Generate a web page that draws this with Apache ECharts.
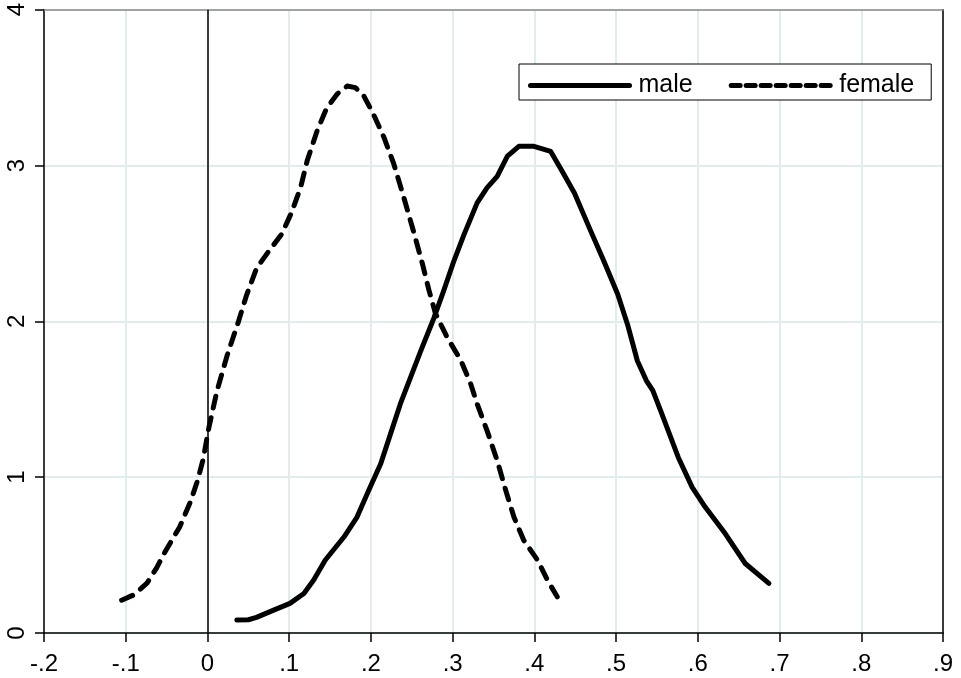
<!DOCTYPE html>
<html>
<head>
<meta charset="utf-8">
<script src="https://cdn.jsdelivr.net/npm/echarts@6/dist/echarts.min.js"></script>
<style>
html,body{margin:0;padding:0;background:#fff;}
#chart{width:961px;height:678px;}
</style>
</head>
<body>
<div id="chart"></div>
<script>
// ---- data ----
const xTicks = [-0.2, -0.1, 0, 0.1, 0.2, 0.3, 0.4, 0.5, 0.6, 0.7, 0.8, 0.9];
const yTicks = [0, 1, 2, 3, 4];
const seriesNames = ['male', 'female'];

const maleX = [0.036, 0.05, 0.06, 0.081, 0.101, 0.118, 0.130, 0.144, 0.167, 0.183, 0.199, 0.212, 0.224, 0.236, 0.2485, 0.261, 0.277, 0.289, 0.3015, 0.314, 0.330, 0.342, 0.3545, 0.367, 0.381, 0.3995, 0.42, 0.434, 0.449, 0.469, 0.485, 0.502, 0.514, 0.526, 0.537, 0.545, 0.556, 0.576, 0.593, 0.609, 0.6335, 0.658, 0.687];
const maleY = [0.083, 0.085, 0.10, 0.147, 0.19, 0.254, 0.34, 0.467, 0.616, 0.744, 0.936, 1.086, 1.278, 1.47, 1.64, 1.81, 2.02, 2.195, 2.387, 2.558, 2.76, 2.856, 2.93, 3.06, 3.123, 3.123, 3.09, 2.963, 2.824, 2.579, 2.387, 2.174, 1.98, 1.747, 1.62, 1.555, 1.406, 1.128, 0.936, 0.808, 0.638, 0.446, 0.318];

const femaleX = [-0.105, -0.09, -0.074, -0.062, -0.052, -0.034, -0.021, -0.012, -0.005, 0.001, 0.0115, 0.024, 0.038, 0.048, 0.06, 0.075, 0.091, 0.103, 0.114, 0.122, 0.134, 0.146, 0.159, 0.171, 0.181, 0.191, 0.203, 0.216, 0.228, 0.240, 0.252, 0.263, 0.271, 0.279, 0.293, 0.310, 0.322, 0.330, 0.342, 0.3545, 0.365, 0.375, 0.387, 0.404, 0.416, 0.428];
const femaleY = [0.21, 0.245, 0.32, 0.42, 0.52, 0.68, 0.84, 0.98, 1.12, 1.30, 1.55, 1.78, 2.0, 2.17, 2.34, 2.45, 2.56, 2.70, 2.86, 3.03, 3.22, 3.37, 3.46, 3.51, 3.50, 3.45, 3.33, 3.18, 3.01, 2.80, 2.58, 2.37, 2.20, 2.05, 1.90, 1.75, 1.60, 1.47, 1.30, 1.107, 0.915, 0.744, 0.595, 0.467, 0.339, 0.232];

const refLineX = 0;

// ---- build ----
const zip = (xs, ys) => xs.map((x, i) => [x, ys[i]]);
const FONT = '"Liberation Sans", Arial, sans-serif';
const fmtX = v => {
  const s = String(Math.round(v * 10) / 10);
  return s.replace(/^(-?)0\./, '$1.');
};

const chart = echarts.init(document.getElementById('chart'), null, {renderer: 'canvas'});
const gridColor = '#e3eced';
const TRANSPARENT = 'rgba(0,0,0,0)';

chart.setOption({
  animation: false,
  backgroundColor: '#ffffff',
  textStyle: {fontFamily: FONT, color: '#000'},
  grid: {left: 44, right: 18, top: 8, bottom: 45, containLabel: false},
  xAxis: [{
    type: 'value',
    min: xTicks[0], max: xTicks[xTicks.length - 1], interval: 0.1,
    axisLine: {show: true, onZero: false, lineStyle: {color: '#000', width: 1.5}},
    axisTick: {show: true, length: 9, lineStyle: {color: '#000', width: 1.5}},
    axisLabel: {fontSize: 24, color: '#000', fontFamily: FONT, margin: 19, formatter: fmtX, showMinLabel: true, showMaxLabel: true},
    splitLine: {show: true, lineStyle: {color: gridColor, width: 2}}
  }, {
    type: 'value', position: 'top',
    min: xTicks[0], max: xTicks[xTicks.length - 1], interval: 0.1,
    axisLine: {show: true, onZero: false, lineStyle: {color: '#8a8a8a', width: 1.5}},
    axisTick: {show: false}, axisLabel: {show: false}, splitLine: {show: false}
  }],
  yAxis: [{
    type: 'value',
    min: yTicks[0], max: yTicks[yTicks.length - 1], interval: 1,
    axisLine: {show: true, onZero: false, lineStyle: {color: '#000', width: 1.5}},
    axisTick: {show: true, length: 9, lineStyle: {color: '#000', width: 1.5}},
    axisLabel: {fontSize: 24, color: '#000', fontFamily: FONT, rotate: 90, margin: 15, showMinLabel: true, showMaxLabel: true},
    splitLine: {show: true, lineStyle: {color: gridColor, width: 2}}
  }, {
    type: 'value', position: 'right',
    min: yTicks[0], max: yTicks[yTicks.length - 1], interval: 1,
    axisLine: {show: true, onZero: false, lineStyle: {color: '#000', width: 1.5}},
    axisTick: {show: false}, axisLabel: {show: false}, splitLine: {show: false}
  }],
  legend: {
    left: 519, top: 64,
    orient: 'horizontal',
    backgroundColor: '#fff',
    borderColor: '#000', borderWidth: 1, borderRadius: 0,
    padding: [9, 17, 2, 9],
    itemWidth: 99, itemHeight: 20, itemGap: 36,
    textStyle: {fontSize: 25, color: '#000', fontFamily: FONT, padding: [0, 0, 0, 4]},
    itemStyle: {color: TRANSPARENT, borderColor: TRANSPARENT, borderWidth: 0},
    lineStyle: {width: 5},
    data: [
      {name: seriesNames[0]},
      {name: seriesNames[1], lineStyle: {width: 5, type: [9, 6], cap: 'round'}}
    ]
  },
  series: [{
    name: seriesNames[0],
    type: 'line',
    data: zip(maleX, maleY),
    showSymbol: false, symbol: 'none',
    smooth: false,
    lineStyle: {color: '#000', width: 5, cap: 'round', join: 'round'},
    itemStyle: {color: '#000'},
    z: 5,
    markLine: {
      silent: true, symbol: 'none', label: {show: false},
      lineStyle: {color: '#000', width: 1.5, type: 'solid'},
      data: [{xAxis: refLineX}],
      z: 3
    }
  }, {
    name: seriesNames[1],
    type: 'line',
    data: zip(femaleX, femaleY),
    showSymbol: false, symbol: 'none',
    smooth: false,
    lineStyle: {color: '#000', width: 5, type: [12, 10], cap: 'round', join: 'round'},
    itemStyle: {color: '#000'},
    z: 5
  }]
});
</script>
</body>
</html>
